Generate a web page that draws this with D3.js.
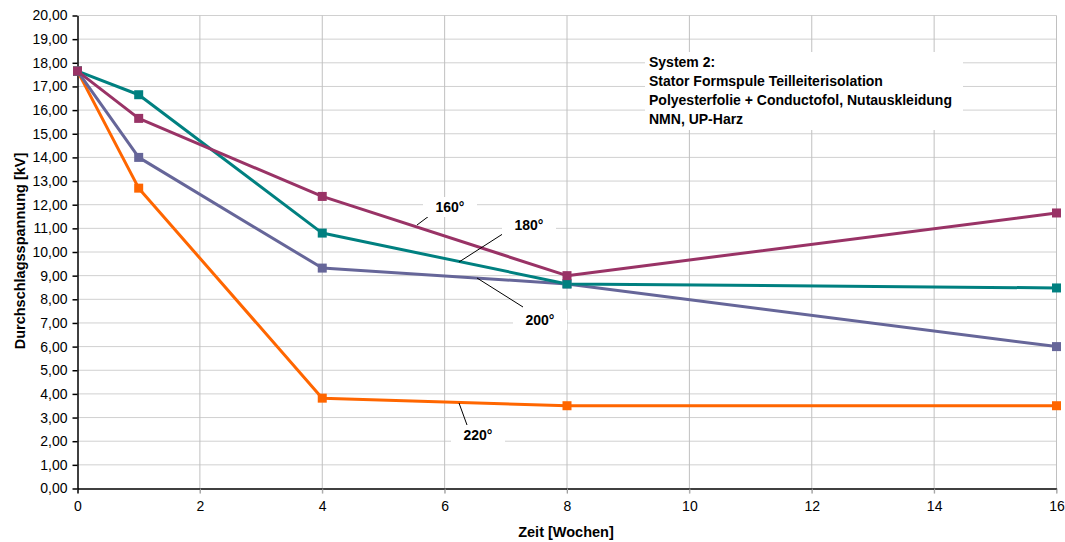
<!DOCTYPE html>
<html><head><meta charset="utf-8">
<script src="https://cdn.jsdelivr.net/npm/d3@7"></script>
<style>body{margin:0;background:#fff}svg{display:block;font-family:"Liberation Sans",Arial,sans-serif}</style>
</head><body><svg id="c" width="1065" height="542"></svg>
<script>
const weeks = [0, 1, 4, 8, 16];
const s160 = [17.65, 15.65, 12.35, 9.0, 11.65];
const s180 = [17.65, 16.65, 10.8, 8.65, 8.48];
const s200 = [17.65, 14.0, 9.32, 8.65, 6.0];
const s220 = [17.65, 12.7, 3.82, 3.5, 3.5];
const seriesNames = ["160°", "180°", "200°", "220°"];
const seriesColors = ["#993366", "#008080", "#666699", "#FF6600"];
const xTicks = [0, 2, 4, 6, 8, 10, 12, 14, 16];
const yTicks = d3.range(0, 21, 1);
const note = ["System 2:", "Stator Formspule Teilleiterisolation", "Polyesterfolie + Conductofol, Nutauskleidung", "NMN, UP-Harz"];

const svg = d3.select("#c");
const x = d3.scaleLinear().domain([0, 16]).range([77.5, 1056.5]);
const y = d3.scaleLinear().domain([0, 20]).range([488.5, 15.5]);
const fmt = v => d3.format(".2f")(v).replace(".", ",");

// grid
svg.append("g").selectAll("line").data(yTicks.filter(d => d > 0)).join("line")
  .attr("x1", x(0)).attr("x2", x(16)).attr("y1", d => y(d)).attr("y2", d => y(d))
  .attr("stroke", "#d0d0d0").attr("stroke-width", 1);
svg.append("g").selectAll("line").data(xTicks.filter(d => d > 0)).join("line")
  .attr("x1", d => x(d)).attr("x2", d => x(d)).attr("y1", y(20)).attr("y2", y(0) + 5)
  .attr("stroke", "#c0c0c0").attr("stroke-width", 1);

// axes
const ya = svg.append("g").attr("transform", `translate(${x(0)},0)`)
  .call(d3.axisLeft(y).tickValues(yTicks).tickFormat(fmt).tickSize(5).tickSizeOuter(0));
const xa = svg.append("g").attr("transform", `translate(0,${y(0)})`)
  .call(d3.axisBottom(x).tickValues(xTicks).tickSize(5).tickSizeOuter(0));
[ya, xa].forEach(a => {
  a.selectAll("path,line").attr("stroke", "#000").attr("stroke-width", 1.5);
  a.selectAll("text").attr("font-size", 14).attr("fill", "#000").attr("font-family", "Liberation Sans, Arial, sans-serif");
});
ya.selectAll("text").attr("x", -10);
xa.selectAll("text").attr("y", 13);
xa.selectAll(".tick line").filter(d => d > 0).attr("stroke", "#a0a0a0").attr("stroke-width", 1);

// axis titles
svg.append("text").attr("x", 566).attr("y", 537).attr("text-anchor", "middle")
  .attr("font-size", 14.5).attr("font-weight", "bold").text("Zeit [Wochen]");
svg.append("text").attr("transform", "translate(25,251) rotate(-90)").attr("text-anchor", "middle")
  .attr("font-size", 14.5).attr("font-weight", "bold").text("Durchschlagsspannung [kV]");

// note box
const nb = svg.append("g");
nb.append("rect").attr("x", 645).attr("y", 52).attr("width", 318).attr("height", 78).attr("fill", "#fff");
nb.selectAll("text").data(note).join("text")
  .attr("x", 649).attr("y", (d, i) => 67 + i * 19)
  .attr("font-size", 14).attr("font-weight", "bold").text(d => d);

// series
const data = [s160, s180, s200, s220];
const line = d3.line().x((d, i) => x(weeks[i])).y(d => y(d));
const order = [3, 2, 1, 0];
order.forEach(k => {
  svg.append("path").datum(data[k]).attr("d", line).attr("fill", "none")
    .attr("stroke", seriesColors[k]).attr("stroke-width", 3).attr("stroke-linejoin", "round");
});
order.forEach(k => {
  svg.append("g").selectAll("rect").data(data[k]).join("rect")
    .attr("x", (d, i) => x(weeks[i]) - 4.5).attr("y", d => y(d) - 4.5)
    .attr("width", 9).attr("height", 9).attr("fill", seriesColors[k]);
});

// labels with leaders
const labels = [
  {t: seriesNames[0], tx: 450, ty: 212, l: [433, 213, 417, 225]},
  {t: seriesNames[1], tx: 529, ty: 230, l: [512, 228, 459, 262]},
  {t: seriesNames[2], tx: 540, ty: 325, l: [477, 278, 523, 307]},
  {t: seriesNames[3], tx: 478, ty: 440, l: [459, 403, 467, 425]}
];
labels.forEach(L => {
  svg.append("line").attr("x1", L.l[0]).attr("y1", L.l[1]).attr("x2", L.l[2]).attr("y2", L.l[3])
    .attr("stroke", "#000").attr("stroke-width", 1);
  svg.append("rect").attr("x", L.tx - 27).attr("y", L.ty - 15).attr("width", 54).attr("height", 20).attr("fill", "#fff");
  svg.append("text").attr("x", L.tx).attr("y", L.ty).attr("text-anchor", "middle")
    .attr("font-size", 14).attr("font-weight", "bold").text(L.t);
});
</script></body></html>
